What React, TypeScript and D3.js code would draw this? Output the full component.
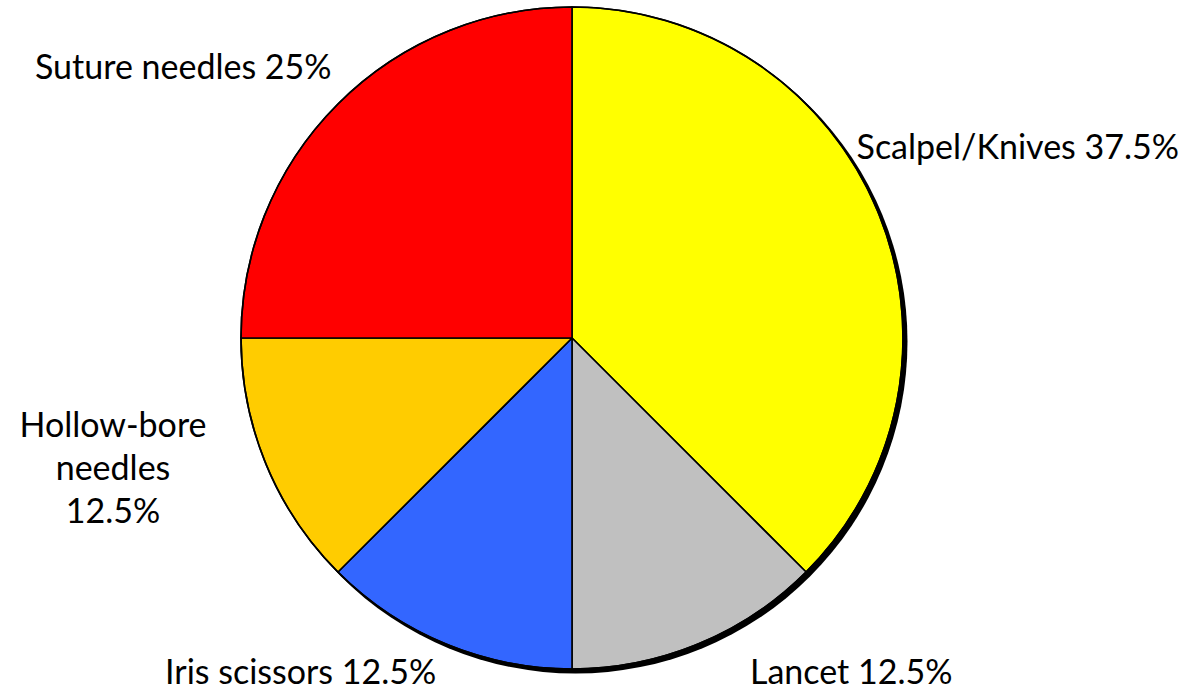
import { useEffect, useRef } from "react";
import * as d3 from "d3";

// chart data
const categories = ["Scalpel/Knives", "Lancet", "Iris scissors", "Hollow-bore needles", "Suture needles"];
const shares = [37.5, 12.5, 12.5, 12.5, 25];
const colors = ["#FFFF00", "#C0C0C0", "#3366FF", "#FFCC00", "#FF0000"];

// label layout (pixel anchors, one per category)
const labelLayout = [
  { x: 1179, y: 159, anchor: "end", lines: ["Scalpel/Knives 37.5%"] },
  { x: 750, y: 684, anchor: "start", lines: ["Lancet 12.5%"] },
  { x: 165, y: 684, anchor: "start", lines: ["Iris scissors 12.5%"] },
  { x: 113, y: 437, anchor: "middle", lines: ["Hollow-bore", "needles", "12.5%"] },
  { x: 35, y: 79, anchor: "start", lines: ["Suture needles 25%"] },
];

const W = 1186;
const H = 692;

export default function App() {
  const svgRef = useRef<SVGSVGElement>(null);

  useEffect(() => {
    const svg = d3.select(svgRef.current);
    svg.selectAll("*").remove();

    const cx = 572;
    const cy = 338;
    const r = 331;

    const pie = d3.pie<number>().sort(null).value(d => d)(shares);
    const arc = d3.arc<d3.PieArcDatum<number>>().innerRadius(0).outerRadius(r);

    const g = svg.append("g").attr("transform", `translate(${cx},${cy})`);

    // drop shadow
    g.append("circle")
      .attr("cx", 3.5)
      .attr("cy", 3.5)
      .attr("r", r + 1)
      .attr("fill", "#000");

    g.selectAll("path.slice")
      .data(pie)
      .enter()
      .append("path")
      .attr("class", "slice")
      .attr("d", arc)
      .attr("fill", (_d, i) => colors[i])
      .attr("stroke", "#000")
      .attr("stroke-width", 1.6)
      .attr("stroke-linejoin", "round");

    g.append("circle")
      .attr("r", r)
      .attr("fill", "none")
      .attr("stroke", "#000")
      .attr("stroke-width", 1.6);

    const labels = svg.append("g")
      .attr("font-family", "Lato, 'Noto Sans', sans-serif")
      .attr("font-size", "34px")
      .attr("fill", "#000");

    categories.forEach((_c, i) => {
      const l = labelLayout[i];
      const t = labels.append("text")
        .attr("x", l.x)
        .attr("y", l.y)
        .attr("text-anchor", l.anchor);
      l.lines.forEach((line, j) => {
        t.append("tspan")
          .attr("x", l.x)
          .attr("dy", j === 0 ? 0 : 43)
          .text(line);
      });
    });
  }, []);

  return (
    <svg
      ref={svgRef}
      width={W}
      height={H}
      viewBox={`0 0 ${W} ${H}`}
      style={{ position: "absolute", top: 0, left: 0, background: "#fff" }}
    />
  );
}
